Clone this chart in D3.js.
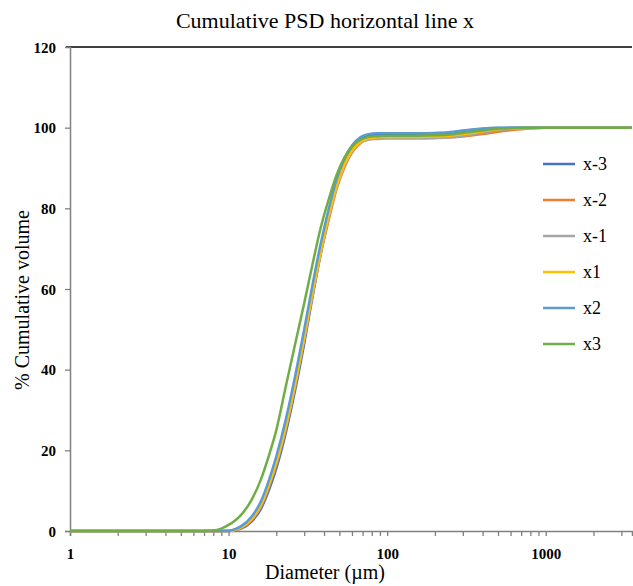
<!DOCTYPE html>
<html>
<head>
<meta charset="utf-8">
<script src="https://cdn.jsdelivr.net/npm/d3@7"></script>
<style>
  html, body { margin: 0; padding: 0; background: #fff; }
  svg { display: block; }
  svg text { font-family: "Liberation Serif", "DejaVu Serif", serif; fill: #000; }
</style>
</head>
<body>
<svg id="chart" width="633" height="586"></svg>
<script>
// ---- data ----
const diameters = [1,2,4,6,7,8,9,10,11,12,14,16,18,20,23,26,30,34,38,43,48,54,60,68,76,86,100,150,200,250,300,400,500,700,1000,1500,2000,3500];
const seriesNames = ["x-3","x-2","x-1","x1","x2","x3"];
const seriesColors = ["#4472C4","#ED7D31","#A5A5A5","#FFC000","#5B9BD5","#70AD47"];
const xm3 = [0,0,0,0,0,0,0,0.02,0.2,0.6,2.4,5.5,10.2,15.5,24.5,34,46.5,58.5,68.5,78,85.5,91.2,94.8,97.1,97.9,98.2,98.3,98.3,98.4,98.7,99.2,99.7,99.9,100,100,100,100,100];
const xm2 = [0,0,0,0,0,0,0,0.03,0.25,0.75,2.7,6,11,16.5,25.5,35,47.5,59,68.5,77.5,84.8,90.3,93.8,96.2,97.1,97.4,97.5,97.5,97.5,97.6,97.8,98.4,99.0,99.6,99.95,100,100,100];
const xm1 = [0,0,0,0,0,0,0,0.04,0.3,0.85,2.9,6.3,11.3,16.8,25.8,35.3,47.8,59.3,68.8,78.2,85.2,90.6,94,96.3,97.0,97.2,97.3,97.3,97.4,97.6,98.0,98.8,99.4,99.85,100,100,100,100];
const xp1 = [0,0,0,0,0,0,0,0.05,0.3,0.9,3.0,6.5,11.5,17,26,35.5,48,59.5,69,78.5,85.5,91,94.3,96.5,97.3,97.6,97.7,97.7,97.8,98.0,98.4,99.1,99.6,99.9,100,100,100,100];
const xp2 = [0,0,0,0,0,0,0,0.08,0.45,1.2,3.6,7.4,12.7,18.5,27.8,37.5,50,61.5,71,80.2,87.2,92.5,95.6,97.7,98.4,98.6,98.6,98.6,98.7,98.9,99.3,99.8,99.95,100,100,100,100,100];
const xp3 = [0,0,0,0,0,0.1,0.6,1.5,2.6,4.0,7.8,12.8,18.8,25,36,45.5,56.5,66.5,75,82.5,88.3,92.7,95.3,97,97.7,97.9,98,98,98.1,98.3,98.7,99.3,99.7,99.95,100,100,100,100];
const seriesValues = [xm3, xm2, xm1, xp1, xp2, xp3];
const yTicks = [0,20,40,60,80,100,120];
const xTickLabels = [1,10,100,1000];
const xDomain = [1, 3500];
const yDomain = [0, 120];

// ---- layout ----
const FONT = "'Liberation Serif', 'DejaVu Serif', serif";
const svg = d3.select("#chart").attr("font-family", FONT);
const mLeft = 70, mRight = 632, mTop = 47, mBottom = 531;

const x = d3.scaleLog().domain(xDomain).range([mLeft, mRight]);
const y = d3.scaleLinear().domain(yDomain).range([mBottom, mTop]);

// title
svg.append("text").attr("x", 325).attr("y", 28).attr("text-anchor", "middle")
  .style("font-family", FONT).style("font-size", "22px").text("Cumulative PSD horizontal line x");

// top line at 120
svg.append("line").attr("x1", mLeft - 4).attr("x2", mRight).attr("y1", y(120)).attr("y2", y(120))
  .attr("stroke", "#000").attr("stroke-width", 1.3);

// y axis
const yAxis = d3.axisLeft(y).tickValues(yTicks).tickSize(5).tickPadding(9).tickFormat(d3.format("d"));
const gy = svg.append("g").attr("transform", `translate(${mLeft},0)`).call(yAxis);
gy.attr("font-family", FONT);
gy.select(".domain").attr("stroke", "#808080").attr("stroke-width", 1.5);
gy.selectAll(".tick line").attr("stroke", "#808080").attr("stroke-width", 1.3);
gy.selectAll(".tick").filter(d => d === 120).select("line").remove();
gy.selectAll(".tick text").style("font-size", "15px").style("font-weight", "bold")
  .style("font-family", FONT).attr("dy", "0.35em");

// x axis
const minorTicks = [];
for (let p = 0; p <= 3; p++) for (let m = 1; m <= 9; m++) { const v = m * Math.pow(10, p); if (v <= 3500) minorTicks.push(v); }
const xAxis = d3.axisBottom(x).tickValues(minorTicks).tickSize(5).tickPadding(12)
  .tickFormat(d => xTickLabels.includes(d) ? String(d) : "");
const gx = svg.append("g").attr("transform", `translate(0,${mBottom})`).call(xAxis);
gx.attr("font-family", FONT);
gx.select(".domain").attr("stroke", "#808080").attr("stroke-width", 1.5);
gx.selectAll(".tick line").attr("stroke", "#808080").attr("stroke-width", 1.3);
gx.selectAll(".tick text").style("font-size", "15px").style("font-weight", "bold")
  .style("font-family", FONT);

// axis titles
svg.append("text").attr("x", 325).attr("y", 579).attr("text-anchor", "middle")
  .style("font-family", FONT).style("font-size", "20px").text("Diameter (µm)");
svg.append("text").attr("transform", "translate(29,300) rotate(-90)").attr("text-anchor", "middle")
  .style("font-family", FONT).style("font-size", "20px").text("% Cumulative volume");

// lines
const line = d3.line().x(d => x(d[0])).y(d => y(d[1])).curve(d3.curveMonotoneX);
seriesNames.forEach((name, i) => {
  const pts = diameters.map((d, j) => [d, seriesValues[i][j]]);
  svg.append("path").datum(pts).attr("d", line).attr("fill", "none")
    .attr("stroke", seriesColors[i]).attr("stroke-width", 2.5).attr("stroke-linejoin", "round");
});

// legend
const legendY = [164, 200, 236, 272, 308, 344];
seriesNames.forEach((name, i) => {
  svg.append("line").attr("x1", 543).attr("x2", 575).attr("y1", legendY[i]).attr("y2", legendY[i])
    .attr("stroke", seriesColors[i]).attr("stroke-width", 2.5);
  svg.append("text").attr("x", 583).attr("y", legendY[i]).attr("dy", "0.35em")
    .style("font-family", FONT).style("font-size", "18px").text(name);
});
</script>
</body>
</html>
